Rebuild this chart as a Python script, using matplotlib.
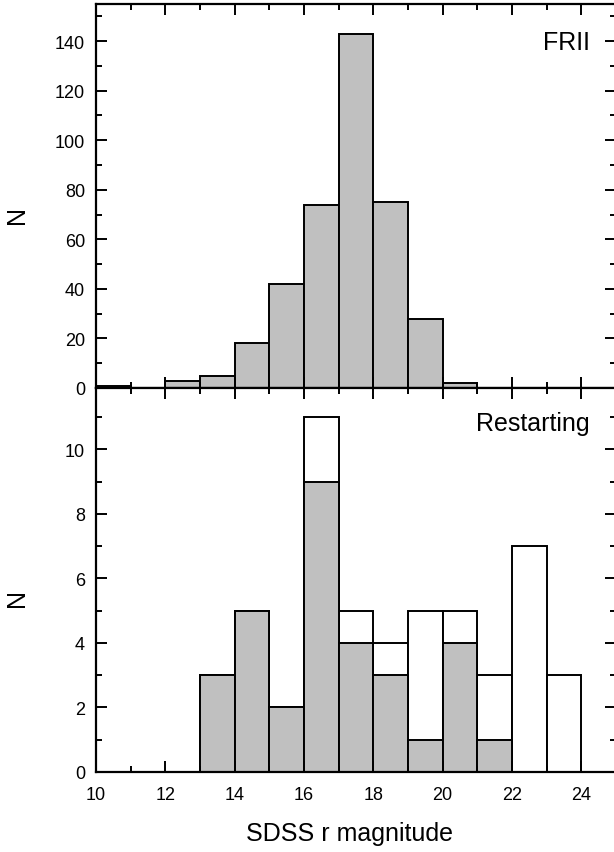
import numpy as np
import matplotlib
matplotlib.use('Agg')
import matplotlib.pyplot as plt
from matplotlib.ticker import MultipleLocator

# bin left edges (SDSS r magnitude), width 1
frii_edges = [10, 11, 12, 13, 14, 15, 16, 17, 18, 19, 20]
frii_counts = [1, 0, 3, 5, 18, 42, 74, 143, 75, 28, 2]

rest_edges = [13, 14, 15, 16, 17, 18, 19, 20, 21, 22, 23]
rest_total = [3, 5, 2, 11, 5, 4, 5, 5, 3, 7, 3]
rest_shaded = [3, 5, 2, 9, 4, 3, 1, 4, 1, 0, 0]

GRAY = '#c0c0c0'
W, H = 614, 853

plt.rcParams['font.family'] = ['Liberation Sans', 'DejaVu Sans']

fig = plt.figure(figsize=(W / 100, H / 100), dpi=100)
x0, x1 = 96 / W, 616 / W
ax_top = fig.add_axes([x0, 1 - 389 / H, x1 - x0, (389 - 5) / H])
ax_bot = fig.add_axes([x0, 1 - 773 / H, x1 - x0, (773 - 389) / H])


def style(ax):
    for s in ax.spines.values():
        s.set_linewidth(1.6)
    ax.set_xlim(10, 25)
    ax.xaxis.set_major_locator(MultipleLocator(2))
    ax.xaxis.set_minor_locator(MultipleLocator(1))
    ax.tick_params(which='both', direction='in', top=True, right=True,
                   width=1.4, labelsize=13, pad=8)
    ax.tick_params(which='major', length=8)
    ax.tick_params(which='minor', length=4.5)


# top panel: FRII
ax_top.bar(frii_edges, frii_counts, width=1, align='edge',
           color=GRAY, edgecolor='black', linewidth=1.4)
style(ax_top)
ax_top.set_ylim(0, 155)
ax_top.yaxis.set_major_locator(MultipleLocator(20))
ax_top.yaxis.set_minor_locator(MultipleLocator(10))
ax_top.tick_params(labelbottom=False)
ax_top.text(0.95, 0.901, 'FRII', transform=ax_top.transAxes,
            ha='right', va='center', fontsize=18)

# bottom panel: restarting (open = all, gray = subset)
ax_bot.bar(rest_edges, rest_total, width=1, align='edge',
           color='white', edgecolor='black', linewidth=1.4)
ax_bot.bar(rest_edges, rest_shaded, width=1, align='edge',
           color=GRAY, edgecolor='black', linewidth=1.4)
style(ax_bot)
ax_bot.set_ylim(0, 11.9)
ax_bot.yaxis.set_major_locator(MultipleLocator(2))
ax_bot.yaxis.set_minor_locator(MultipleLocator(1))
ax_bot.tick_params(axis='x', pad=10)
ax_bot.text(0.95, 0.909, 'Restarting', transform=ax_bot.transAxes,
            ha='right', va='center', fontsize=18)

# axis labels
fig.text(16.5 / W, 1 - 215 / H, 'N', rotation=90, ha='center', va='center', fontsize=18)
fig.text(16.5 / W, 1 - 598 / H, 'N', rotation=90, ha='center', va='center', fontsize=18)
fig.text(350 / W, 1 - 834 / H, 'SDSS r magnitude', ha='center', va='center', fontsize=18)

fig.savefig('out.png', dpi=100)
